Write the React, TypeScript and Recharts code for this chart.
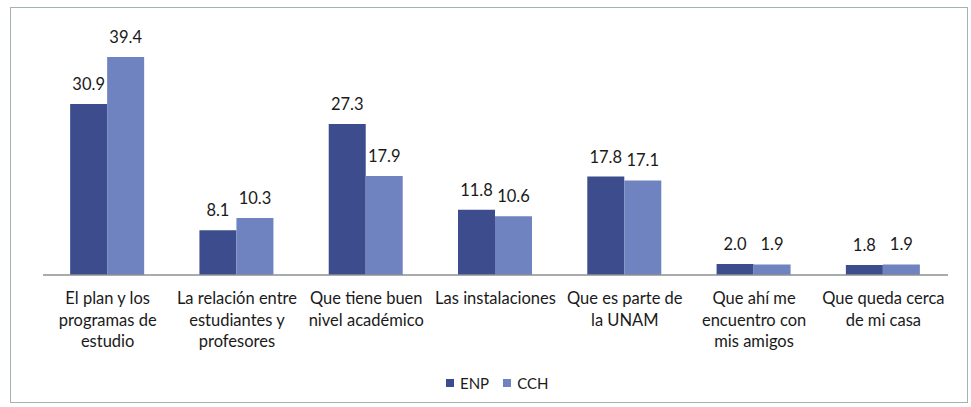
import React from "react";
import { BarChart, Bar, XAxis, YAxis, Legend, LabelList } from "recharts";

const categories = [
  "El plan y los\nprogramas de\nestudio",
  "La relación entre\nestudiantes y\nprofesores",
  "Que tiene buen\nnivel académico",
  "Las instalaciones",
  "Que es parte de\nla UNAM",
  "Que ahí me\nencuentro con\nmis amigos",
  "Que queda cerca\nde mi casa",
];
const enp = [30.9, 8.1, 27.3, 11.8, 17.8, 2.0, 1.8];
const cch = [39.4, 10.3, 17.9, 10.6, 17.1, 1.9, 1.9];
const seriesNames = ["ENP", "CCH"];
const boundaryTicks = [0, 1, 2, 3, 4, 5, 6, 7];

const data = categories.map((c, i) => ({ name: c, ENP: enp[i], CCH: cch[i] }));

const FONT = "Lato, 'Open Sans', sans-serif";
const COLORS = ["#3D4C8C", "#6E83C0"];

const CatTick = (props: any) => {
  const { x, y, payload } = props;
  const lines = String(payload.value).split("\n");
  return (
    <g transform={`translate(${x},${y})`}>
      {lines.map((l, i) => (
        <text
          key={i}
          x={0}
          y={20 + i * 21.5}
          textAnchor="middle"
          fontFamily={FONT}
          fontSize={16.5}
          fill="#1a1a1a"
        >
          {l}
        </text>
      ))}
    </g>
  );
};

const LegendContent = () => (
  <div style={{ display: "flex", alignItems: "center", fontFamily: FONT, fontSize: 15, color: "#1a1a1a", height: 24 }}>
    {seriesNames.map((n, i) => (
      <div key={n} style={{ display: "flex", alignItems: "center", marginRight: 14 }}>
        <span style={{ display: "inline-block", width: 8, height: 8, background: COLORS[i], marginRight: 6 }} />
        <span>{n}</span>
      </div>
    ))}
  </div>
);

export default function App() {
  return (
    <div style={{ position: "absolute", left: 0, top: 0, width: 971, height: 407, background: "#fff" }}>
      <div
        style={{
          position: "absolute",
          left: 10,
          top: 7,
          width: 958,
          height: 396,
          border: "1.5px solid #a3b2ae",
          boxSizing: "border-box",
        }}
      />
      <BarChart
        width={971}
        height={407}
        data={data}
        margin={{ top: 26, right: 23, left: 43, bottom: 12 }}
        barCategoryGap="21%"
        barGap={0}
      >
        <XAxis
          xAxisId="cat"
          dataKey="name"
          axisLine={false}
          tickLine={false}
          tick={<CatTick />}
          interval={0}
          height={95}
        />
        <XAxis
          xAxisId="b"
          type="number"
          domain={[0, 7]}
          ticks={boundaryTicks}
          tick={false}
          tickSize={6}
          height={1}
          axisLine={{ stroke: "#8c9090", strokeWidth: 1.5 }}
          tickLine={{ stroke: "#8c9090", strokeWidth: 1.5 }}
          allowDataOverflow
        />
        <YAxis hide domain={[0, 45]} />
        <Legend
          verticalAlign="bottom"
          content={<LegendContent />}
          wrapperStyle={{ left: 446, width: 140 }}
        />
        {seriesNames.map((n, i) => (
          <Bar key={n} dataKey={n} xAxisId="cat" fill={COLORS[i]} isAnimationActive={false}>
            <LabelList
              dataKey={n}
              position="top"
              offset={14}
              formatter={(v: any) => Number(v).toFixed(1)}
              style={{ fontFamily: FONT, fontSize: 16.5, fill: "#1a1a1a" }}
            />
          </Bar>
        ))}
      </BarChart>
    </div>
  );
}
